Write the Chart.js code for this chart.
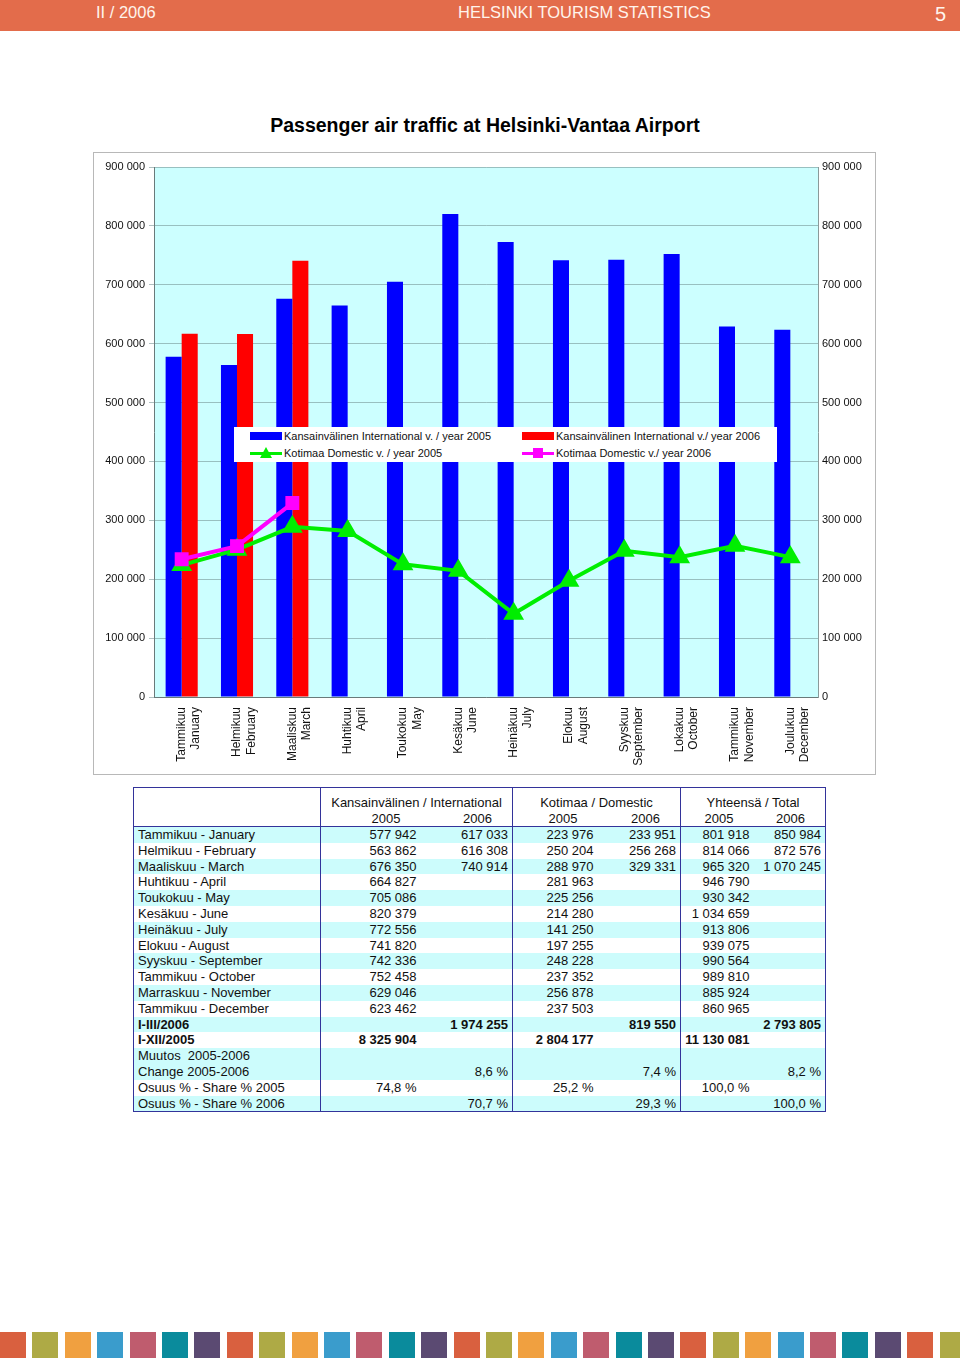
<!DOCTYPE html>
<html>
<head>
<meta charset="utf-8">
<script src="https://cdn.jsdelivr.net/npm/chart.js@4.4.1/dist/chart.umd.min.js"></script>
<style>
    body { margin: 0; background: #fff; font-family: "Liberation Sans", Arial, sans-serif; }
    #page { position: relative; width: 960px; height: 1358px; overflow: hidden; }
    #header { position: absolute; left: 0; top: 0; width: 960px; height: 31px; background: #e36c4b; color: #fff4ec; }
    #header span { position: absolute; top: 3px; font-size: 16.5px; }
    #title { position: absolute; left: 0; top: 114px; width: 970px; text-align: center; font-size: 19.5px; font-weight: bold; color: #000; }
    #frame { position: absolute; left: 93px; top: 152px; width: 783px; height: 623px; border: 1px solid #b8b8b8; box-sizing: border-box; }
    #chartBox { position: absolute; left: 94px; top: 153px; width: 781px; height: 621px; }
    #legend { position: absolute; left: 234px; top: 427px; width: 543px; height: 35px; background: #fff; font-size: 11px; color: #111; }
    #legend .item { position: absolute; height: 14px; line-height: 14px; white-space: nowrap; }
    #legend .sw { position: absolute; left: 0; top: 0; width: 32px; height: 14px; }
    #legend .txt { position: absolute; left: 34px; top: 0; }
    #tbl { position: absolute; left: 133px; top: 787px; width: 692px; border-collapse: collapse; font-size: 13px; color: #111; border: 1.5px solid #33339a; table-layout: fixed; }
    #tbl td { padding: 0 4px; height: 15.8px; line-height: 15.8px; white-space: nowrap; text-align: right; }
    #tbl td.lbl { text-align: left; padding-left: 4px; }
    #tbl tr.c td { background: #ccfcfc; }
    #tbl td.g { border-right: 1.5px solid #33339a; }
    #tbl tr.hd2 td { border-bottom: 1.5px solid #33339a; height: 15px; line-height: 15px; }
    #tbl tr.hd1 td { height: 16px; line-height: 16px; padding-top: 7px; text-align: center; }
    #tbl tr.hd2 td.yr { padding-right: 20px; }
    #tbl tr.b td { font-weight: bold; }
    #strip { position: absolute; left: 0; top: 1332px; width: 960px; height: 26px; }
    #strip div { position: absolute; top: 0; width: 26px; height: 26px; }
</style>
</head>
<body>
<div id="page">
    <div id="header">
        <span style="left:96px">II / 2006</span>
        <span style="left:458px">HELSINKI TOURISM STATISTICS</span>
        <span style="left:935px; top:3px; font-size:20px">5</span>
    </div>
    <div id="title">Passenger air traffic at Helsinki-Vantaa Airport</div>
    <div id="frame"></div>
    <div id="chartBox"><canvas id="airChart"></canvas></div>
    <div id="legend"></div>
    <table id="tbl"></table>
    <div id="strip"></div>
</div>
<script>
    // Kategoriat (kuukaudet)
    var months = [
        ["Tammikuu", "January"], ["Helmikuu", "February"], ["Maaliskuu", "March"],
        ["Huhtikuu", "April"], ["Toukokuu", "May"], ["Kesäkuu", "June"],
        ["Heinäkuu", "July"], ["Elokuu", "August"], ["Syyskuu", "September"],
        ["Lokakuu", "October"], ["Tammikuu", "November"], ["Joulukuu", "December"]
    ];
    var tableMonths = [
        "Tammikuu - January", "Helmikuu - February", "Maaliskuu - March", "Huhtikuu - April",
        "Toukokuu - May", "Kesäkuu - June", "Heinäkuu - July", "Elokuu - August",
        "Syyskuu - September", "Tammikuu - October", "Marraskuu - November", "Tammikuu - December"
    ];

    // Sarjat
    var intl2005 = [577942, 563862, 676350, 664827, 705086, 820379, 772556, 741820, 742336, 752458, 629046, 623462];
    var intl2006 = [617033, 616308, 740914, null, null, null, null, null, null, null, null, null];
    var dom2005 = [223976, 250204, 288970, 281963, 225256, 214280, 141250, 197255, 248228, 237352, 256878, 237503];
    var dom2006 = [233951, 256268, 329331, null, null, null, null, null, null, null, null, null];
    var total2005 = [801918, 814066, 965320, 946790, 930342, 1034659, 913806, 939075, 990564, 989810, 885924, 860965];
    var total2006 = [850984, 872576, 1070245, null, null, null, null, null, null, null, null, null];

    // Akselin asteikko
    var yMin = 0, yMax = 900000, yStep = 100000;

    // Yhteenvetorivit
    var sumLabels = ["I-III/2006", "I-XII/2005"];
    var sumRows = [
        ["", "1 974 255", "", "819 550", "", "2 793 805"],
        ["8 325 904", "", "2 804 177", "", "11 130 081", ""]
    ];
    var changeRow = ["", "8,6 %", "", "7,4 %", "", "8,2 %"];
    var share2005 = ["74,8 %", "", "25,2 %", "", "100,0 %", ""];
    var share2006 = ["", "70,7 %", "", "29,3 %", "", "100,0 %"];

    var stripColors = ["#d9603f", "#aeaa45", "#f0a040", "#3a9ccc", "#bf5c6e", "#0a8b9c", "#5b4a72"];

    function fmt(n) {
        if (n === null || n === undefined) return '';
        return n.toString().replace(/\B(?=(\d{3})+(?!\d))/g, ' ');
    }

    var plotBg = {
        id: 'plotBg',
        beforeDraw: function (chart) {
            var a = chart.chartArea, ctx = chart.ctx;
            ctx.save();
            ctx.fillStyle = '#ccffff';
            ctx.fillRect(a.left, a.top, a.right - a.left, a.bottom - a.top);
            ctx.restore();
        }
    };

    var datasets = [
        { type: 'bar', label: 'Kansainvälinen International v. / year 2005', data: intl2005, backgroundColor: '#0000ff', order: 3 },
        { type: 'bar', label: 'Kansainvälinen International v./ year 2006', data: intl2006, backgroundColor: '#ff0000', order: 3 },
        { type: 'line', label: 'Kotimaa Domestic v. / year 2005', data: dom2005, borderColor: '#00ee00', backgroundColor: '#00ee00',
          borderWidth: 4, pointStyle: 'triangle', pointRadius: 8, tension: 0, order: 1 },
        { type: 'line', label: 'Kotimaa Domestic v./ year 2006', data: dom2006, borderColor: '#ff00ff', backgroundColor: '#ff00ff',
          borderWidth: 4, pointStyle: 'rect', pointRadius: 7, tension: 0, order: 0 }
    ];

    var chart = new Chart(document.getElementById('airChart'), {
        data: { labels: months, datasets: datasets },
        options: {
            responsive: true,
            maintainAspectRatio: false,
            animation: false,
            layout: { padding: { top: 14, left: 0, right: 0, bottom: 0 } },
            datasets: { bar: { barPercentage: 1, categoryPercentage: 0.58 } },
            plugins: { legend: { display: false }, tooltip: { enabled: false } },
            scales: {
                x: {
                    grid: { display: false },
                    border: { color: '#6a7a7a' },
                    ticks: { autoSkip: false, minRotation: 90, maxRotation: 90, padding: 2, color: '#111',
                             font: { family: 'Liberation Sans', size: 12 } },
                    afterFit: function (s) { s.height = 77; }
                },
                y: {
                    position: 'left', min: yMin, max: yMax,
                    grid: { color: 'rgba(110,140,140,0.55)', tickLength: 5 },
                    border: { color: '#6a7a7a' },
                    ticks: { stepSize: yStep, padding: 4, color: '#111', font: { family: 'Liberation Sans', size: 11 }, callback: function (v) { return fmt(v); } },
                    afterFit: function (s) { s.width = 60; }
                },
                y2: {
                    position: 'right', min: yMin, max: yMax,
                    grid: { drawOnChartArea: false, drawTicks: false },
                    border: { color: '#8a9a9a' },
                    ticks: { stepSize: yStep, padding: 4, color: '#111', font: { family: 'Liberation Sans', size: 11 }, callback: function (v) { return fmt(v); } },
                    afterFit: function (s) { s.width = 57; }
                }
            }
        },
        plugins: [plotBg]
    });

    // Selite (HTML)
    var legendPos = [[16, 2], [288, 2], [16, 19], [288, 19]];
    var legendHtml = '';
    chart.data.datasets.forEach(function (ds, i) {
        var p = legendPos[i], sw;
        if (ds.type === 'bar') {
            sw = '<div class="sw"><div style="position:absolute;left:0;top:3px;width:32px;height:8px;background:' + ds.backgroundColor + '"></div></div>';
        } else {
            var mark = ds.pointStyle === 'triangle'
                ? '<div style="position:absolute;left:10px;top:1px;width:0;height:0;border-left:6px solid transparent;border-right:6px solid transparent;border-bottom:11px solid ' + ds.borderColor + '"></div>'
                : '<div style="position:absolute;left:11px;top:2px;width:10px;height:10px;background:' + ds.borderColor + '"></div>';
            sw = '<div class="sw"><div style="position:absolute;left:0;top:6px;width:32px;height:3px;background:' + ds.borderColor + '"></div>' + mark + '</div>';
        }
        legendHtml += '<div class="item" style="left:' + p[0] + 'px;top:' + p[1] + 'px">' + sw + '<span class="txt">' + ds.label + '</span></div>';
    });
    document.getElementById('legend').innerHTML = legendHtml;

    // Taulukko
    function row(cls, label, cells) {
        var h = '<tr class="' + cls + '"><td class="lbl g">' + label + '</td>';
        cells.forEach(function (c, i) {
            h += '<td' + (i % 2 === 1 ? ' class="g"' : '') + '>' + c + '</td>';
        });
        return h + '</tr>';
    }
    var t = '<colgroup><col style="width:187px"><col style="width:100px"><col style="width:92px"><col style="width:85px"><col style="width:83px"><col style="width:73px"><col style="width:72px"></colgroup>';
    t += '<tr class="hd1"><td class="g"></td><td colspan="2" class="g">Kansainvälinen / International</td><td colspan="2" class="g">Kotimaa / Domestic</td><td colspan="2">Yhteensä / Total</td></tr>';
    t += '<tr class="hd2"><td class="g"></td><td class="yr">2005</td><td class="yr g">2006</td><td class="yr">2005</td><td class="yr g">2006</td><td class="yr">2005</td><td class="yr">2006</td></tr>';
    var n = 0;
    tableMonths.forEach(function (m, i) {
        t += row(n++ % 2 === 0 ? 'c' : '', m, [fmt(intl2005[i]), fmt(intl2006[i]), fmt(dom2005[i]), fmt(dom2006[i]), fmt(total2005[i]), fmt(total2006[i])]);
    });
    sumLabels.forEach(function (l, i) {
        t += row((n++ % 2 === 0 ? 'c' : '') + ' b', l, sumRows[i]);
    });
    var cc = n++ % 2 === 0 ? 'c' : '';
    t += row(cc, 'Muutos&nbsp; 2005-2006', ["", "", "", "", "", ""]);
    t += row(cc, 'Change 2005-2006', changeRow);
    t += row(n++ % 2 === 0 ? 'c' : '', 'Osuus % - Share % 2005', share2005);
    t += row(n++ % 2 === 0 ? 'c' : '', 'Osuus % - Share % 2006', share2006);
    document.getElementById('tbl').innerHTML = t;

    // Alareunan värinauha
    var s = '';
    for (var i = 0; i < 30; i++) {
        s += '<div style="left:' + (i * 32.4).toFixed(1) + 'px;background:' + stripColors[i % stripColors.length] + '"></div>';
    }
    document.getElementById('strip').innerHTML = s;
</script>
</body>
</html>
